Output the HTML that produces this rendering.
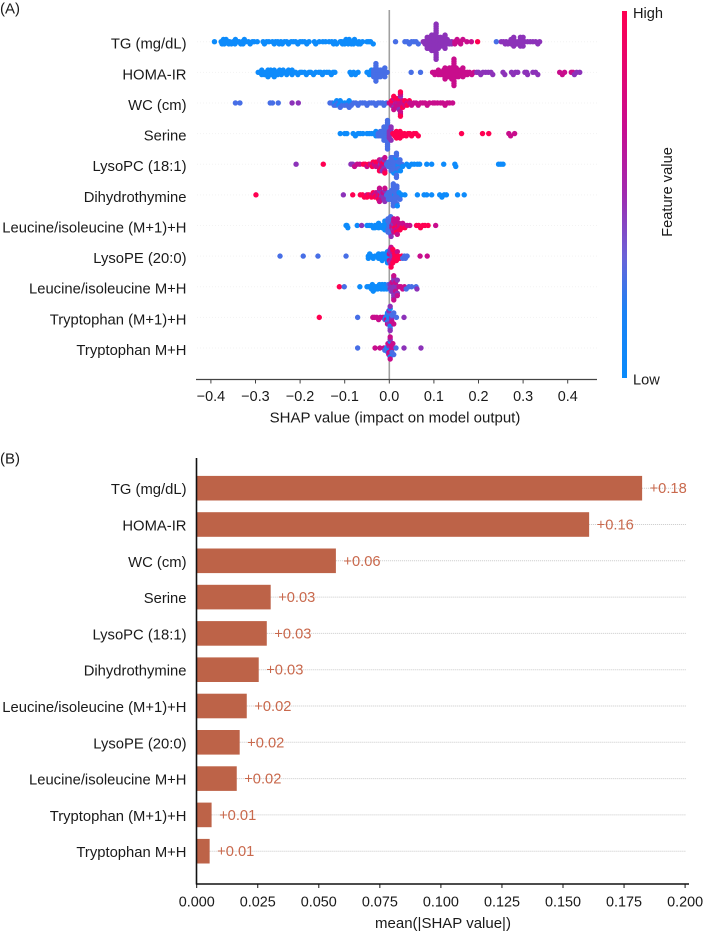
<!DOCTYPE html>
<html lang="en">
<head>
<meta charset="utf-8">
<title>SHAP summary and feature importance</title>
<style>
html,body{margin:0;padding:0;background:#fff;width:703px;height:932px;overflow:hidden}
svg{display:block}
text{font-family:"Liberation Sans",Arial,sans-serif;fill:#1a1a1a;font-size:14.8px}
</style>
</head>
<body>
<svg id="root" width="703" height="932" viewBox="0 0 703 932" xmlns="http://www.w3.org/2000/svg">
  <defs>
    <linearGradient id="cbar" x1="0" y1="1" x2="0" y2="0">
      <stop offset="0" stop-color="#0a8bfb"/>
      <stop offset="0.18" stop-color="#1a82f5"/>
      <stop offset="0.33" stop-color="#6a62d8"/>
      <stop offset="0.5" stop-color="#a02ab0"/>
      <stop offset="0.68" stop-color="#c80c90"/>
      <stop offset="1" stop-color="#ff0051"/>
    </linearGradient>
    <filter id="soft" x="-5%" y="-5%" width="110%" height="110%"><feGaussianBlur stdDeviation="0.35"/></filter>
  </defs>
  <text x="0" y="13.5" style="font-size:15px">(A)</text>
  <text x="0" y="463.5" style="font-size:15px">(B)</text>
  <g id="panelA"></g>
  <g id="panelB"></g>
  <rect x="622" y="11" width="5" height="367" fill="url(#cbar)"/>
  <text x="633" y="18" style="font-size:14.6px">High</text>
  <text x="633" y="384.5" style="font-size:14.6px">Low</text>
  <text transform="translate(672,192) rotate(-90)" text-anchor="middle" style="font-size:14.7px">Feature value</text>
  <text x="395" y="422.5" text-anchor="middle" style="font-size:15px">SHAP value (impact on model output)</text>
  <text x="443" y="928" text-anchor="middle" style="font-size:15px">mean(|SHAP value|)</text>
</svg>
<script>
const features = ["TG (mg/dL)","HOMA-IR","WC (cm)","Serine","LysoPC (18:1)","Dihydrothymine","Leucine/isoleucine (M+1)+H","LysoPE (20:0)","Leucine/isoleucine M+H","Tryptophan (M+1)+H","Tryptophan M+H"];
const shapTicks = [-0.4,-0.3,-0.2,-0.1,0,0.1,0.2,0.3,0.4];
const barTicks = [0,0.025,0.05,0.075,0.1,0.125,0.15,0.175,0.2];
const barTickLabels = ["0.000","0.025","0.050","0.075","0.100","0.125","0.150","0.175","0.200"];
const meanShap = [0.1824,0.1607,0.057,0.0303,0.0287,0.0254,0.0205,0.0176,0.0164,0.0061,0.0053];
const meanShapLabels = ["+0.18","+0.16","+0.06","+0.03","+0.03","+0.03","+0.02","+0.02","+0.02","+0.01","+0.01"];
const featureLevels = [0,0.27,0.5,0.72,1];

/* each row: SHAP values grouped by feature-value level (low, low-mid, mid, mid-high, high) */
const tgShap = [
 [-0.392,-0.377,-0.375,-0.372,-0.37,-0.37,-0.366,-0.362,-0.36,-0.358,-0.354,-0.35,-0.346,-0.345,-0.341,-0.337,-0.333,-0.33,-0.328,-0.325,-0.322,-0.316,-0.312,-0.307,-0.303,-0.296,-0.283,-0.28,-0.275,-0.27,-0.262,-0.258,-0.255,-0.25,-0.247,-0.243,-0.24,-0.235,-0.23,-0.226,-0.22,-0.215,-0.21,-0.205,-0.2,-0.195,-0.19,-0.185,-0.18,-0.168,-0.165,-0.157,-0.149,-0.143,-0.135,-0.129,-0.125,-0.122,-0.118,-0.11,-0.107,-0.105,-0.102,-0.1,-0.097,-0.094,-0.092,-0.09,-0.087,-0.085,-0.082,-0.08,-0.078,-0.075,-0.07,-0.068,-0.065,-0.06,-0.05,-0.046,-0.042,-0.036],
 [0.014,0.035,0.04,0.045,0.05,0.055,0.06,0.065,0.24],
 [0.076,0.08,0.08,0.085,0.085,0.085,0.085,0.09,0.09,0.09,0.09,0.09,0.09,0.095,0.095,0.095,0.095,0.095,0.095,0.095,0.095,0.1,0.1,0.1,0.1,0.1,0.1,0.1,0.1,0.105,0.105,0.105,0.105,0.105,0.105,0.105,0.105,0.105,0.11,0.11,0.11,0.11,0.11,0.11,0.115,0.115,0.115,0.115,0.115,0.12,0.12,0.12,0.12,0.125,0.125,0.125,0.13,0.13,0.13,0.135,0.135,0.14,0.14,0.251,0.256,0.26,0.262,0.266,0.27,0.273,0.273,0.276,0.276,0.279,0.279,0.279,0.283,0.286,0.289,0.29,0.294,0.294,0.294,0.297,0.297,0.297,0.3,0.3,0.304,0.31,0.316,0.322,0.328,0.333,0.337],
 [0.147,0.147,0.152,0.155,0.16,0.16,0.165,0.174,0.184],
 [0.198]
];
const homaShap = [
 [-0.294,-0.29,-0.286,-0.286,-0.282,-0.28,-0.276,-0.276,-0.272,-0.272,-0.268,-0.268,-0.266,-0.262,-0.262,-0.258,-0.258,-0.254,-0.25,-0.25,-0.246,-0.242,-0.242,-0.238,-0.235,-0.23,-0.23,-0.226,-0.222,-0.218,-0.218,-0.21,-0.205,-0.2,-0.196,-0.19,-0.186,-0.18,-0.176,-0.17,-0.165,-0.158,-0.154,-0.15,-0.146,-0.14,-0.135,-0.13,-0.126,-0.122,-0.088,-0.085,-0.08,-0.076,-0.07,-0.05,-0.045,-0.045,-0.04,-0.04,-0.04],
 [-0.035,-0.035,-0.035,-0.035,-0.03,-0.03,-0.03,-0.03,-0.03,-0.025,-0.025,-0.025,-0.025,-0.02,-0.02,-0.02,-0.02,-0.015,-0.015,-0.015,-0.01,-0.01,-0.005,0.049,0.07],
 [0.196,0.2,0.205,0.21,0.216,0.222,0.228,0.232,0.255,0.259,0.274,0.278,0.283,0.288,0.304,0.308,0.31,0.322,0.328,0.333,0.415,0.42,0.427],
 [0.097,0.102,0.102,0.107,0.11,0.11,0.115,0.115,0.12,0.12,0.122,0.125,0.125,0.125,0.13,0.13,0.13,0.13,0.135,0.135,0.135,0.135,0.135,0.14,0.14,0.14,0.14,0.14,0.14,0.145,0.145,0.145,0.145,0.145,0.145,0.145,0.15,0.15,0.15,0.15,0.15,0.155,0.155,0.155,0.155,0.16,0.16,0.16,0.165,0.165,0.17,0.17,0.175,0.175,0.18,0.185,0.19,0.382,0.388,0.393,0.408,0.412],
 []
];
const wcShap = [
 [-0.122,-0.118,-0.113,-0.11,-0.106,-0.1,-0.095,-0.09,-0.086],
 [-0.345,-0.335,-0.267,-0.262,-0.249,-0.133,-0.128,-0.124,-0.12,-0.115,-0.11,-0.105,-0.1,-0.095,-0.09,-0.085,-0.08,-0.075,-0.07,-0.065,-0.06,-0.055,-0.05,-0.045,-0.04,-0.035,-0.03,-0.025,-0.02,-0.015,-0.012,-0.006],
 [-0.218,-0.204,0.015,0.02,0.022,0.025,0.01],
 [0,0.005,0.005,0.01,0.01,0.015,0.015,0.015,0.02,0.02,0.02,0.025,0.025,0.025,0.03,0.03,0.03,0.035,0.035,0.04,0.046,0.05,0.055,0.06,0.065,0.07,0.075,0.08,0.085,0.09,0.098,0.102,0.108,0.115,0.12,0.125,0.13,0.135,0.142],
 [0.005,0.01,0.015,0.02,0.025,0.025,0.03,0.035,0.04,0.045]
];
const serineShap = [
 [-0.11,-0.1,-0.095,-0.081,-0.076,-0.07,-0.065,-0.059,-0.05,-0.045,-0.04,-0.035,-0.03,-0.03],
 [-0.025,-0.025,-0.02,-0.02,-0.02,-0.015,-0.015,-0.015,-0.012,-0.012,-0.012,-0.012,-0.008,-0.008,-0.008,-0.008,-0.008,-0.008,-0.004,-0.004,-0.004,-0.004,-0.004,-0.004,-0.004,-0.004],
 [0,0,0,0,0.004,0.004,0.004],
 [0.281,0.268,0.272],
 [0.008,0.012,0.012,0.016,0.016,0.02,0.02,0.024,0.024,0.028,0.03,0.034,0.038,0.042,0.046,0.05,0.055,0.06,0.065,0.162,0.209,0.223]
];
const lysoPCShap = [
 [0.01,0.015,0.015,0.02,0.02,0.025,0.03,0.039,0.044,0.05,0.056,0.063,0.068,0.084,0.095,0.122,0.147,0.149,0.245,0.25,0.255],
 [-0.006,-0.002,-0.002,0.002,0.002,0.002,0.004,0.004,0.004,0.004,0.008,0.008,0.008,0.008,0.008,0.008,0.008,0.012,0.012,0.012,0.012,0.012,0.012,0.016,0.016,0.016,0.016,0.02,0.02,0.024,0.028],
 [-0.209,-0.086,-0.082,-0.02,-0.016,-0.016,-0.012,-0.012],
 [-0.078,-0.072,-0.066,-0.05,-0.042,-0.034,-0.03,-0.026,-0.026,-0.022,-0.022,-0.018,-0.018,-0.014,-0.014,-0.01,-0.01],
 [-0.148,-0.058,-0.054,-0.046,-0.038,-0.036,-0.03,-0.026,-0.022,-0.018,-0.014,-0.01]
];
const dihydroShap = [
 [0.012,0.018,0.022,0.028,0.035,0.063,0.078,0.084,0.095,0.113,0.118,0.123,0.128,0.153,0.168],
 [-0.006,-0.002,-0.002,-0.002,0.002,0.002,0.002,0.002,0.005,0.005,0.005,0.005,0.005,0.009,0.009,0.009,0.009,0.009,0.009,0.013,0.013,0.013,0.013,0.013,0.017,0.017,0.017,0.02,0.02,0.024],
 [-0.103,-0.022,-0.018,-0.018,-0.014,-0.014,-0.012,-0.01,-0.01],
 [-0.05,-0.04,-0.034,-0.03,-0.026,-0.026,-0.022,-0.022,-0.018,-0.014,-0.01],
 [-0.299,-0.082,-0.065,-0.06,-0.056,-0.05,-0.046,-0.04,-0.036,-0.032,-0.028,-0.024,-0.02]
];
const leuPlusShap = [
 [-0.097,-0.095,-0.093,-0.072,-0.05,-0.045,-0.04,-0.036,-0.032,-0.032,-0.028,-0.024,-0.024,-0.02,-0.016,-0.014,-0.014,-0.01,-0.01,-0.01,-0.006,-0.006,-0.006],
 [-0.003,-0.003,-0.003,-0.003,0,0,0,0,0,0.003,0.003,0.003,0.003],
 [-0.062,0.004,0.008,0.008,0.012],
 [0.006,0.006,0.01,0.01,0.01,0.014,0.014,0.014,0.018,0.018,0.022,0.022,0.026,0.03,0.034,0.04,0.046,0.104],
 [0.012,0.016,0.02,0.024,0.028,0.035,0.061,0.066,0.07,0.075,0.08,0.087]
];
const lysoPEShap = [
 [-0.047,-0.047,-0.044,-0.04,-0.036,-0.032,-0.028,-0.024,-0.024,-0.02,-0.02,-0.016,-0.016,-0.012,-0.012,-0.012,-0.008,-0.008,-0.008,-0.004,-0.004,-0.004,0,0],
 [-0.245,-0.193,-0.16,-0.097,0.03,0.034,0.036,0.04],
 [0.002,0.002,0.002,0.006,0.006,0.006],
 [0,0,0.004,0.004,0.008,0.008,0.012,0.018,0.069,0.085],
 [0.004,0.008,0.008,0.012,0.012,0.016,0.02,0.024,0.028]
];
const leuMHShap = [
 [-0.066,-0.05,-0.046,-0.042,-0.04,-0.038,-0.036,-0.032,-0.03,-0.028,-0.026,-0.022,-0.02,-0.018,-0.016,-0.014,-0.012,-0.01,-0.008,-0.006],
 [-0.101,-0.002,0,0.004,0.038,0.044,0.05,0.06],
 [0.002,0.002,0.006,0.006,0.006,0.006,0.01,0.01,0.01,0.01,0.01,0.014,0.014,0.014,0.018,0.018,0.062],
 [0.006,0.01,0.01,0.014,0.014,0.018,0.022,0.026,0.03,0.034],
 [-0.112]
];
const trpPlusShap = [
 [-0.008,-0.004,-0.004,-0.001,-0.001,-0.001,0.002,0.002],
 [-0.071,-0.01,-0.005,-0.001,-0.001,0.002,0.006,0.01,0.016],
 [-0.001,-0.001,0.002,0.002,0.005,0.005,0.033],
 [-0.037,-0.033,-0.028,-0.024,-0.02,-0.014,-0.007,-0.004,0.006,0.01],
 [-0.157]
];
const trpShap = [
 [-0.006,-0.003,-0.003,-0.001,-0.001,0.002,0.002],
 [-0.071,-0.01,-0.006,0.006,0.01,0.015],
 [-0.001,0.002,0.005,0.033,0.071],
 [-0.032,-0.021,-0.012,-0.003,-0.001,-0.001,-0.001,0.002,0.002,0.005,0.005,0.008],
 []
];
const shapRows = [tgShap,homaShap,wcShap,serineShap,lysoPCShap,dihydroShap,leuPlusShap,lysoPEShap,leuMHShap,trpPlusShap,trpShap];

const NS = "http://www.w3.org/2000/svg";
const panelA = document.getElementById("panelA");
const panelB = document.getElementById("panelB");
function mk(parent, tag, attrs, txt){
  const el = document.createElementNS(NS, tag);
  for (const k in attrs) el.setAttribute(k, attrs[k]);
  if (txt !== undefined) el.textContent = txt;
  parent.appendChild(el);
  return el;
}
const sx = v => 389.3 + v * 446;
const sy = i => 41.7 + i * 30.63;
const bx = v => 196.7 + v * 2442;
const by = i => 488.2 + i * 36.3;
const cmapStops = [[0,[10,139,251]],[0.27,[70,110,230]],[0.5,[140,50,185]],[0.72,[200,15,140]],[1,[255,0,81]]];
function color(t){
  for (let i = 1; i < cmapStops.length; i++){
    if (t <= cmapStops[i][0]){
      const a = cmapStops[i-1], b = cmapStops[i], f = (t - a[0]) / (b[0] - a[0]);
      return "rgb(" + a[1].map((c, j) => Math.round(c + (b[1][j] - c) * f)).join(",") + ")";
    }
  }
  return "rgb(255,0,81)";
}

/* panel A: row guides, zero line, dots */
features.forEach((name, i) => {
  const guide = mk(panelA, "line", {x1:197, x2:597, y1:sy(i), y2:sy(i), stroke:"#f3f3f3", "stroke-width":1, "stroke-dasharray":"1 2"});
  
  
  const lab = mk(panelA, "text", {x:186.5, y:sy(i)+7, "text-anchor":"end"}, name);
  
  
});
const zero = mk(panelA, "line", {x1:sx(0), x2:sx(0), y1:10, y2:380, stroke:"#a0a0a0", "stroke-width":1.6});



const dots = mk(panelA, "g", {filter:"url(#soft)"});


shapRows.forEach((row, i) => {
  const pts = [];
  row.forEach((vals, lvl) => vals.forEach(v => pts.push({v:v, c:featureLevels[lvl]})));
  pts.sort((a, b) => a.v - b.v);
  const bins = {};
  pts.forEach(p => {
    const b = Math.round(sx(p.v) / 3);
    const n = bins[b] = (bins[b] || 0) + 1;
    const k = n % 2 === 0 ? n / 2 : -(n - 1) / 2;
    const d = mk(dots, "circle", {cx:sx(p.v).toFixed(2), cy:(sy(i) + k * 2.2).toFixed(2), r:2.7, fill:color(p.c)});
    
    
  });
});

const axA = mk(panelA, "line", {x1:196, x2:597, y1:379.5, y2:379.5, stroke:"#444", "stroke-width":1.2});


shapTicks.forEach(t => {
  const tk = mk(panelA, "line", {x1:sx(t), x2:sx(t), y1:379.5, y2:383.5, stroke:"#444", "stroke-width":1});
  
  
  const lb = mk(panelA, "text", {x:sx(t), y:401, "text-anchor":"middle", style:"font-size:14.4px"}, (t < 0 ? "\u2212" : "") + Math.abs(t).toFixed(1));
  
  
});

/* panel B */
features.forEach((name, i) => {
  const v = meanShap[i];
  const grid = mk(panelB, "line", {x1:bx(v), x2:686, y1:by(i), y2:by(i), stroke:"#c9c9c9", "stroke-width":1, "stroke-dasharray":"1 1"});
  
  
  const bar = mk(panelB, "rect", {x:bx(0), y:by(i)-12.3, width:bx(v)-bx(0), height:24.6, fill:"#bd6348"});
  
  
  const val = mk(panelB, "text", {x:bx(v)+7.5, y:by(i)+5, style:"fill:#c9694d;font-size:14.7px"}, meanShapLabels[i]);
  
  
  const lab = mk(panelB, "text", {x:186.5, y:by(i)+6, "text-anchor":"end"}, name);
  
  
});
const yAxB = mk(panelB, "line", {x1:196.5, x2:196.5, y1:458, y2:884.5, stroke:"#111", "stroke-width":1.6});


const xAxB = mk(panelB, "line", {x1:196, x2:689, y1:884, y2:884, stroke:"#111", "stroke-width":1.6});


barTicks.forEach((t, i) => {
  const tk = mk(panelB, "line", {x1:bx(t), x2:bx(t), y1:884, y2:888, stroke:"#111", "stroke-width":1});
  
  
  const lb = mk(panelB, "text", {x:bx(t), y:906.5, "text-anchor":"middle", style:"font-size:14.4px"}, barTickLabels[i]);
  
  
});
</script>
</body>
</html>
